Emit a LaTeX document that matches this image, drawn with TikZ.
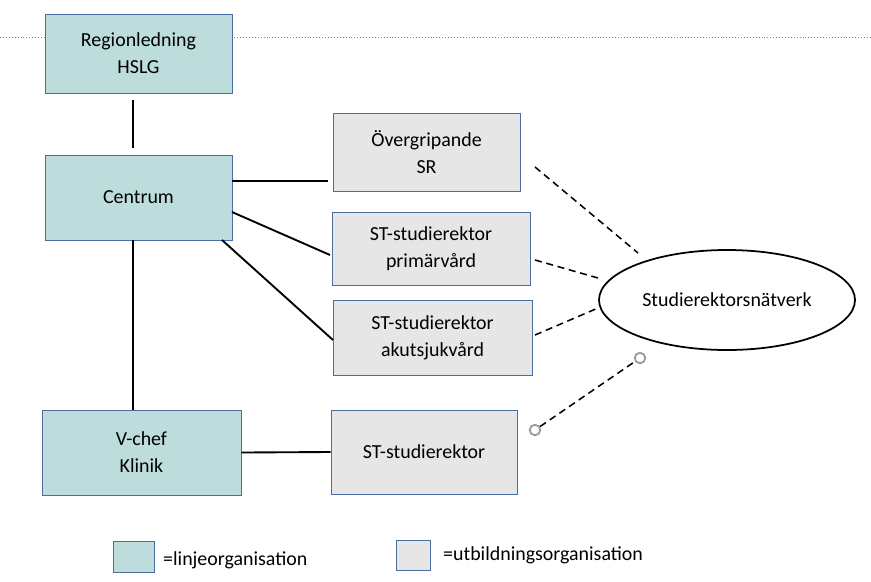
\documentclass[tikz,border=0pt]{standalone}
\usepackage{fontspec}
\setmainfont{Carlito}
\usetikzlibrary{shapes.geometric}
\begin{document}
\begin{tikzpicture}[x=0.03cm,y=-0.03cm,
  box/.style={draw=bord,line width=0.6pt,align=center,inner sep=0pt,font=\fontsize{17}{23}\selectfont},
  line/.style={line width=1.6pt},
  dsh/.style={line width=1.3pt,dash pattern=on 6pt off 4pt},
  endc/.style={circle,draw=gray!80,line width=1.5pt,minimum size=9pt,inner sep=0pt,fill=white},
  txt/.style={font=\fontsize{17}{21}\selectfont,anchor=west,inner sep=0pt}]
\definecolor{teal1}{HTML}{BDDCDC}
\definecolor{gray1}{HTML}{E7E6E6}
\definecolor{bord}{HTML}{4A6EA0}
\useasboundingbox (0,0) rectangle (871,581);
\draw[gray,line width=0.5pt,dotted] (0,37) -- (871,37);
\node[box,fill=teal1,minimum width=187*0.03cm,minimum height=79*0.03cm] (reg) at (138.5,53.5) {Regionledning\\HSLG};
\node[box,fill=teal1,minimum width=187*0.03cm,minimum height=85*0.03cm] (cen) at (138.5,197.5) {Centrum};
\node[box,fill=teal1,minimum width=199*0.03cm,minimum height=85*0.03cm] (vch) at (141.5,452.5) {V-chef\\Klinik};
\node[box,fill=gray1,minimum width=187*0.03cm,minimum height=78*0.03cm] (ovr) at (426.5,152) {Övergripande\\SR};
\node[box,fill=gray1,minimum width=198*0.03cm,minimum height=73*0.03cm] (pri) at (431,248.5) {ST-studierektor\\primärvård};
\node[box,fill=gray1,minimum width=199*0.03cm,minimum height=75*0.03cm] (aku) at (432.5,337.5) {ST-studierektor\\akutsjukvård};
\node[box,fill=gray1,minimum width=186*0.03cm,minimum height=84*0.03cm] (st) at (424,452) {ST-studierektor};
\node[ellipse,draw,line width=1.5pt,minimum width=256*0.03cm,minimum height=100*0.03cm,inner sep=0pt,font=\fontsize{17}{21}\selectfont] (net) at (727,300) {Studierektorsnätverk};
\coordinate (a1) at (133,100); \coordinate (a2) at (133,148);
\draw[line] (a1) -- (a2);
\coordinate (b1) at (133,240); \coordinate (b2) at (133,410);
\draw[line] (b1) -- (b2);
\coordinate (c1) at (232,181); \coordinate (c2) at (328,181);
\draw[line] (c1) -- (c2);
\coordinate (d1) at (232,212); \coordinate (d2) at (330,255);
\draw[line] (d1) -- (d2);
\coordinate (e1) at (222,240); \coordinate (e2) at (333,340);
\draw[line] (e1) -- (e2);
\draw[line] (vch.east) -- (st.west);
\coordinate (f1) at (535,167); \coordinate (f2) at (638,253);
\draw[dsh] (f1) -- (f2);
\coordinate (g1) at (535,260); \coordinate (g2) at (598,278);
\draw[dsh] (g1) -- (g2);
\coordinate (h1) at (535,335); \coordinate (h2) at (598,308);
\draw[dsh] (h1) -- (h2);
\node[endc] (k1) at (535,430) {};
\node[endc] (k2) at (640,358) {};
\draw[dsh] (k1) -- (k2);
\node[draw=bord,line width=0.6pt,fill=teal1,minimum width=41*0.03cm,minimum height=31*0.03cm,inner sep=0pt] (l1) at (133.5,556.5) {};
\node[txt] (l1t) at (163,560) {=linjeorganisation};
\node[draw=bord,line width=0.6pt,fill=gray1,minimum width=34*0.03cm,minimum height=30*0.03cm,inner sep=0pt] (l2) at (413,555) {};
\node[txt] (l2t) at (443,555) {=utbildningsorganisation};
\end{tikzpicture}
\end{document}
